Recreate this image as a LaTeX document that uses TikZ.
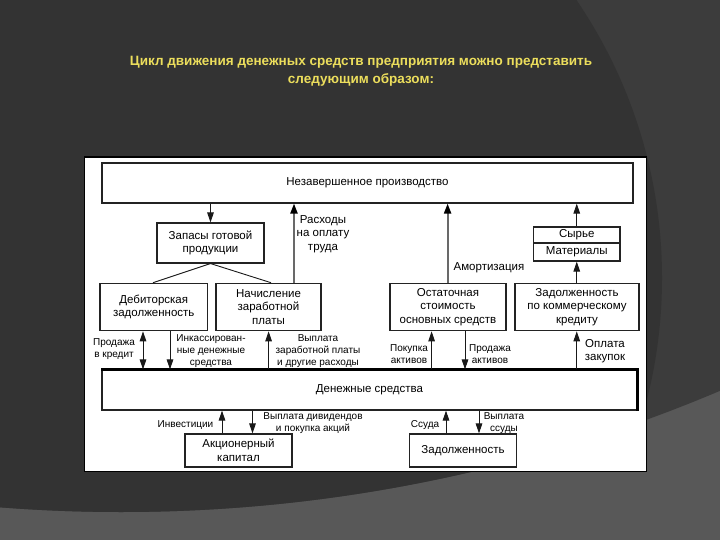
\documentclass[tikz,border=0pt]{standalone}
\usepackage{fontspec}
\setmainfont{Liberation Sans}
\usetikzlibrary{arrows.meta,calc}
\definecolor{bgdark}{RGB}{51,51,51}
\definecolor{bgmid}{RGB}{60,60,60}
\definecolor{bglight}{RGB}{88,88,88}
\definecolor{titleyellow}{RGB}{236,222,92}
\definecolor{boxline}{RGB}{35,35,35}
\definecolor{thickgray}{RGB}{105,105,105}
\begin{document}
\begin{tikzpicture}[x=1pt,y=-1pt,
  box/.style={draw=boxline,line width=1.1pt,fill=white,inner sep=0pt,align=center,
    font=\fontsize{11.5}{13.5}\selectfont},
  lbl/.style={inner sep=0pt,align=center,font=\fontsize{10}{11.8}\selectfont},
  biglbl/.style={inner sep=0pt,align=center,font=\fontsize{11.5}{13.5}\selectfont},
  tip/.style={-{Triangle[length=10pt,width=6.5pt]}},
  arr/.style={draw=black!90,line width=0.9pt,tip},
  arrtwo/.style={draw=black!90,line width=0.9pt,{Triangle[length=10pt,width=6.5pt]}-{Triangle[length=10pt,width=6.5pt]}},
  arrthick/.style={draw=thickgray,line width=2pt,-{Triangle[length=10pt,width=7pt,color=black]}},
  plain/.style={draw=black!90,line width=0.9pt},
  titletext/.style={text=titleyellow,font=\bfseries\fontsize{13.5}{18}\selectfont,align=center,inner sep=0pt}
]
\useasboundingbox (0,0) rectangle (720,540);
% background
\begin{scope}
  \clip (0,0) rectangle (720,540);
  \fill[bglight] (0,0) rectangle (720,540);
  \clip (121,-1024) circle[radius=1536pt];
  \fill[bgmid] (0,0) rectangle (720,540);
  \fill[bgdark] (168,278) circle[radius=494pt];
\end{scope}
% title
\node[titletext] (title) at (361,71) {Цикл движения денежных средств предприятия можно представить\\следующим образом:};
% panel
\draw[black,line width=1.2pt,fill=white] (84.5,157) rectangle (646.5,471.5);
% boxes
\node[box,minimum width=531pt,minimum height=40pt] (wip) at (367.5,183) {Незавершенное производство};
\node[box,minimum width=107pt,minimum height=40pt] (zap) at (210.5,243) {Запасы готовой\\продукции};
\node[box,minimum width=107.5pt,minimum height=47.5pt] (deb) at (153.75,307) {Дебиторская\\задолженность};
\node[box,minimum width=105pt,minimum height=47.5pt] (nach) at (268.5,307) {Начисление\\заработной\\платы};
\node[box,minimum width=116pt,minimum height=47.5pt] (ost) at (448,307) {Остаточная\\стоимость\\основных средств};
\node[box,minimum width=124pt,minimum height=47.5pt] (zk) at (577,307) {Задолженность\\по коммерческому\\кредиту};
\node[box,minimum width=86.5pt,minimum height=16pt] (syr) at (576.75,235) {Сырье};
\node[box,minimum width=86.5pt,minimum height=18pt] (mat) at (576.75,252) {Материалы};
\node[box,minimum width=535pt,minimum height=40pt] (money) at (369.5,390) {Денежные средства};
\draw[black,line width=2.4pt] (money.north west) -- (money.north east) -- (money.south east);
\node[box,minimum width=107pt,minimum height=33pt] (akc) at (238.5,450.5) {Акционерный\\капитал};
\node[box,minimum width=107pt,minimum height=33pt] (zad) at (463,450.5) {Задолженность};
% x positions of connectors
\coordinate (xrash) at (294,0);
\coordinate (xamort) at (447.6,0);
\coordinate (xdl) at (153,0);
\coordinate (xdr) at (271,0);
\coordinate (xprod) at (143,0);
\coordinate (xinc) at (170,0);
\coordinate (xvypl) at (268.6,0);
\coordinate (xpok) at (431.6,0);
\coordinate (xprodakt) at (465,0);
\coordinate (xinv) at (222,0);
\coordinate (xdiv) at (252.5,0);
\coordinate (xssud) at (446,0);
\coordinate (xvss) at (479,0);
% connectors
\draw[arr] (wip.south -| zap) -- (zap.north);
\draw[arrthick] (nach.north -| xrash) -- (wip.south -| xrash);
\draw[arrthick] (ost.north -| xamort) -- (wip.south -| xamort);
\draw[arr] (syr.north) -- (wip.south -| syr);
\draw[arr] (zk.north -| mat) -- (mat.south);
\draw[plain] (zap.south) -- (deb.north -| xdl);
\draw[plain] (zap.south) -- (nach.north -| xdr);
\draw[arrtwo] (deb.south -| xprod) -- (money.north -| xprod);
\draw[arr] (deb.south -| xinc) -- (money.north -| xinc);
\draw[arr] (money.north -| xvypl) -- (nach.south -| xvypl);
\draw[arr] (money.north -| xpok) -- (ost.south -| xpok);
\draw[arr] (ost.south -| xprodakt) -- (money.north -| xprodakt);
\draw[arr] (money.north -| mat) -- (zk.south -| mat);
\draw[arr] (akc.north -| xinv) -- (money.south -| xinv);
\draw[arr] (money.south -| xdiv) -- (akc.north -| xdiv);
\draw[arr] (zad.north -| xssud) -- (money.south -| xssud);
\draw[arr] (money.south -| xvss) -- (zad.north -| xvss);
% labels
\node[biglbl] (lrash) at (323,234) {Расходы\\на оплату\\труда};
\node[biglbl] (lamort) at (489,268) {Амортизация};
\node[lbl] (lprod) at (114,349) {Продажа\\в кредит};
\node[lbl] (linc) at (211,351) {Инкассирован-\\ные денежные\\средства};
\node[lbl] (lvypl) at (318,351) {Выплата\\заработной платы\\и другие расходы};
\node[lbl] (lpok) at (409,354) {Покупка\\активов};
\node[lbl] (lprodakt) at (490,354) {Продажа\\активов};
\node[biglbl] (lopl) at (605,351) {Оплата\\закупок};
\node[lbl] (linv) at (185.5,425) {Инвестиции};
\node[lbl] (ldiv) at (313,423) {Выплата дивидендов\\и покупка акций};
\node[lbl] (lssud) at (425,425) {Ссуда};
\node[lbl] (lvss) at (504,423) {Выплата\\ссуды};
\end{tikzpicture}
\end{document}
